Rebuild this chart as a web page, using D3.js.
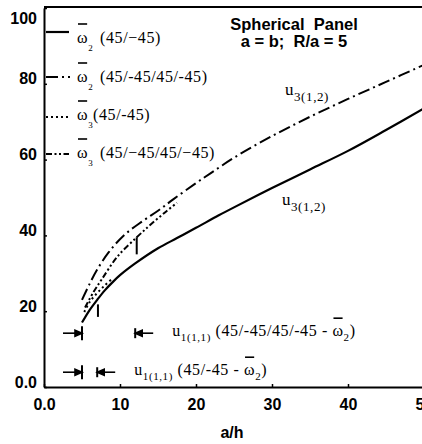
<!DOCTYPE html>
<html>
<head>
<meta charset="utf-8">
<script src="https://cdn.jsdelivr.net/npm/d3@7"></script>
<style>
body{margin:0;background:#fff}
svg{display:block}
text{white-space:pre}
</style>
</head>
<body>
<script>
////Data (a/h against frequency parameter)
var xTicks = [0,10,20,30,40,50]
var yTicks = [0,20,40,60,80,100]

//w2 (45/-45), solid, u3(1,2)
var w2Ply2 = [[5,17],[6,20.3],[7,23],[8,25.5],[9,27.6],[10,29.5],[12,32.6],[15,36.6],[17.5,39.3],[20,42],[23,45.3],[25,47.4],[30,52.5],[35,57.4],[40,62.3],[45,67.8],[50,73.5]]
//w2 (45/-45/45/-45), dash-dot, u3(1,2)
var w2Ply4 = [[5,23],[6,27.2],[7,31],[8.5,35.5],[10.5,40],[13,43.8],[15,46.5],[17,49.5],[20,53.8],[22,56.5],[25,60.5],[30,66.2],[35,71.3],[40,76],[45,80.5],[50,85]]
//w3 (45/-45), dotted
var w3Ply2 = [[5.3,19.8],[6,22.4],[7,24.8],[8,26.8],[9,28.6]]
//w3 (45/-45/45/-45), dash-dot-dot
var w3Ply4 = [[5.4,21],[6.5,25],[7.6,28.4],[9.7,34.5],[12.2,39.5],[14,42.8],[16,46.2],[17.5,48.6]]

//Short vertical limit marks on the curves [a/h, low, high]
var limitMarks = [[7.1,18.5,21.8],[12.2,35,39.5]]

//Ranges where u1(1,1) governs [from, to, level]
var u1Ranges = [[5,12,14.2],[5,7,3.9]]
var u1Layups = ["45/-45/45/-45","45/-45"]

//Legend
var legendLayups = ["45/\u221245","45/-45/45/-45","45/-45","45/\u221245/45/\u221245"]
var legendModes = ["2","2","3","3"]

////Layout
var width = 422, height = 444
var serif = "'Liberation Serif', 'Times New Roman', serif"
var sans = "'Liberation Sans', Arial, sans-serif"

var svg = d3.select("body").append("svg").attr("width",width).attr("height",height)

var x = d3.scaleLinear().domain([0,50]).range([44,424])
var y = d3.scaleLinear().domain([0,100]).range([387,8])

//Line styles, one per legend entry
var styles = [
    {dash:null, w:2.2},
    {dash:"12,4,2,4", w:2},
    {dash:"2,3", w:2},
    {dash:"6,2.5,2,2.5,2,2.5", w:2}
]

////Axes
var xAxis = svg.append("g").attr("transform","translate(0,"+y(0)+")")
    .call(d3.axisBottom(x).tickValues(xTicks).tickSize(-3).tickSizeOuter(0)
        .tickFormat(function(d){return d==0 ? "0.0" : d}))
xAxis.attr("font-family",sans).attr("font-size",16).attr("font-weight","bold")
xAxis.select(".domain").attr("stroke-width",2)
xAxis.selectAll(".tick line").attr("stroke-width",1.5)
xAxis.selectAll(".tick text").attr("y",23).attr("dy",0).attr("fill","#000")

var yAxis = svg.append("g").attr("transform","translate("+x(0)+",0)")
    .call(d3.axisLeft(y).tickValues(yTicks).tickSize(-3).tickSizeOuter(0)
        .tickFormat(function(d){return d==0 ? "0.0" : d}))
yAxis.attr("font-family",sans).attr("font-size",16).attr("font-weight","bold")
yAxis.select(".domain").attr("stroke-width",2)
yAxis.selectAll(".tick line").attr("stroke-width",1.5)
yAxis.selectAll(".tick text").attr("x",-7).attr("fill","#000")
    .attr("y",function(d){return Math.max(y(d)-5,18)-y(d)})

//Top frame line
svg.append("line")
    .attr("x1",x(0)).attr("x2",width)
    .attr("y1",y(100)-1).attr("y2",y(100)-1)
    .attr("stroke","#000").attr("stroke-width",2)

//Axis title
svg.append("text").attr("x",232).attr("y",438)
    .attr("text-anchor","middle").attr("font-family",sans).attr("font-size",16).attr("font-weight","bold")
    .text("a/h")

//Title
var title = svg.append("text").attr("text-anchor","middle")
    .attr("font-family",sans).attr("font-size",16.5).attr("font-weight","bold")
title.append("tspan").attr("x",294).attr("y",30).text("Spherical  Panel")
title.append("tspan").attr("x",294).attr("y",47).text("a = b;  R/a = 5")

////Helper writing text with subscripts and overbars
function richText(px, py, parts, size, subSize, subDy, barOff){
    var t = svg.append("text").attr("x",px).attr("y",py)
        .attr("font-family",serif).attr("font-size",size).attr("letter-spacing","0.6px")
    var shift = 0
    var bars = []
    parts.forEach(function(p){
        var s = t.append("tspan").text(p.t)
        var target = p.sub ? subDy : 0
        if(p.x != null) s.attr("x",p.x)
        if(target != shift){ s.attr("dy",target-shift); shift = target }
        if(p.sub) s.attr("font-size",subSize)
        if(p.bar) bars.push(s)
    })
    bars.forEach(function(s){
        var bb = s.node().getBBox()
        svg.append("line")
            .attr("x1",bb.x+1).attr("x2",bb.x+bb.width-1)
            .attr("y1",py-barOff).attr("y2",py-barOff)
            .attr("stroke","#000").attr("stroke-width",1.6)
    })
    return t
}

////Legend
var legendRows = [{ly:32,base:43},{ly:77,base:82},{ly:117,base:120},{ly:154,base:158}]
legendRows.forEach(function(r,i){
    svg.append("line")
        .attr("x1",46).attr("x2",i==1 ? 70 : 69)
        .attr("y1",r.ly).attr("y2",r.ly)
        .attr("stroke","#000").attr("stroke-width",styles[i].w)
        .attr("stroke-dasharray",styles[i].dash)
    richText(77, r.base, [
        {t:"\u03c9", bar:true},
        {t:legendModes[i], sub:true},
        {t:"("+legendLayups[i]+")", x: i==2 ? 93 : 100}
    ], 16, 9, 8, 19)
})

////Curves
var line = d3.line()
    .x(function(d){return x(d[0])})
    .y(function(d){return y(d[1])})
    .curve(d3.curveCatmullRom.alpha(0.5))

var curves = [w2Ply2,w2Ply4,w3Ply2,w3Ply4]
svg.selectAll(".curve").data(curves).enter().append("path")
    .attr("class","curve")
    .attr("d",line)
    .attr("fill","none")
    .attr("stroke","#000")
    .attr("stroke-width",function(d,i){return styles[i].w})
    .attr("stroke-dasharray",function(d,i){return styles[i].dash})

//Limit marks
svg.selectAll(".limit").data(limitMarks).enter().append("line")
    .attr("class","limit")
    .attr("x1",function(d){return x(d[0])}).attr("x2",function(d){return x(d[0])})
    .attr("y1",function(d){return y(d[1])}).attr("y2",function(d){return y(d[2])})
    .attr("stroke","#000").attr("stroke-width",2)

//Curve labels u3(1,2)
richText(x(31.7), y(77), [{t:"u"},{t:"3(1,2)",sub:true}], 17, 13, 6, 0)
richText(x(31.3), y(48), [{t:"u"},{t:"3(1,2)",sub:true}], 17, 13, 6, 0)

////u1(1,1) range markers
u1Ranges.forEach(function(r,i){
    var yy = y(r[2]), a = x(r[0]), b = x(r[1])
    var g = svg.append("g").attr("stroke","#000").attr("stroke-width",1.6)
    //left arrow pointing at the lower bound
    g.append("line").attr("x1",a-19).attr("x2",a).attr("y1",yy).attr("y2",yy)
    g.append("path").attr("d","M"+a+","+yy+"L"+(a-7)+","+(yy-3)+"L"+(a-7)+","+(yy+3)+"Z").attr("fill","#000")
    g.append("line").attr("x1",a).attr("x2",a).attr("y1",yy-7).attr("y2",yy+7).attr("stroke-width",2)
    //right arrow pointing at the upper bound
    g.append("line").attr("x1",b).attr("x2",b+18).attr("y1",yy).attr("y2",yy)
    g.append("path").attr("d","M"+b+","+yy+"L"+(b+7)+","+(yy-3)+"L"+(b+7)+","+(yy+3)+"Z").attr("fill","#000")
    g.append("line").attr("x1",b).attr("x2",b).attr("y1",yy-5).attr("y2",yy+5).attr("stroke-width",2)

    richText(b+37, yy+3, [
        {t:"u"},{t:"1(1,1)",sub:true},
        {t:" ("+u1Layups[i]+" - "},
        {t:"\u03c9",bar:true},{t:"2",sub:true},
        {t:")"}
    ], 16, 11, 5, 18)
})
</script>
</body>
</html>
